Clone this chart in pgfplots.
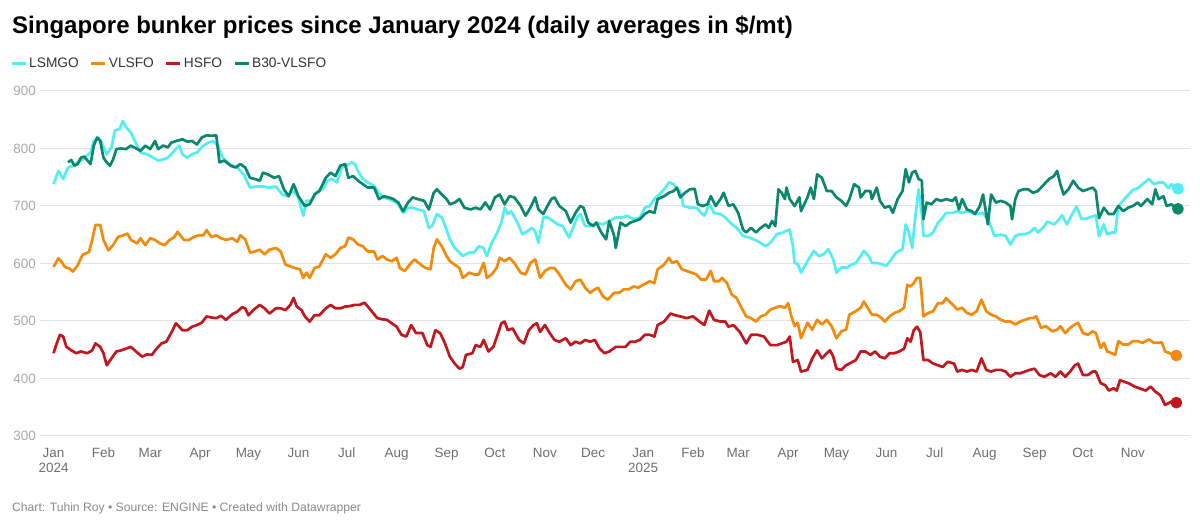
\documentclass[border=0pt]{standalone}
\usepackage{pgfplots}
\pgfplotsset{compat=1.18}
\usepackage{fontspec}
\setmainfont{Liberation Sans}

\definecolor{lsmgo}{HTML}{52EEF2}
\definecolor{vlsfo}{HTML}{F38A0B}
\definecolor{hsfo}{HTML}{C0181E}
\definecolor{bthirty}{HTML}{0B876D}
\definecolor{gridgray}{HTML}{E3E3E3}
\definecolor{ylab}{HTML}{A8A8A8}
\definecolor{xlab}{HTML}{6E6E6E}
\definecolor{legtext}{HTML}{333333}
\definecolor{foot}{HTML}{8A8A8A}

% x = days since 1 Jan 2024
\begin{document}
\begin{tikzpicture}
\path[use as bounding box] (0,0) rectangle (1200bp,526bp);

\node[anchor=base west, inner sep=0pt, font=\fontsize{24.1}{28}\selectfont\bfseries]
  at (12bp,492bp) {Singapore bunker prices since January 2024 (daily averages in \$/mt)};

\node[anchor=base west, inner sep=0pt, text=foot, font=\fontsize{12.2}{14}\selectfont]
  at (12bp,15bp) {Chart: Tuhin Roy • Source: ENGINE • Created with Datawrapper};

\begin{axis}[
    at={(40bp,90bp)}, anchor=south west,
    scale only axis,
    width=1150bp, height=345bp,
    xmin=-8.4, xmax=705.5,
    ymin=300, ymax=900,
    ytick={300,400,500,600,700,800,900},
    xtick={0,31,60,91,121,152,182,213,244,274,305,335,366,397,425,456,486,517,547,578,609,639,670},
    xticklabels={Jan\\2024,Feb,Mar,Apr,May,Jun,Jul,Aug,Sep,Oct,Nov,Dec,Jan\\2025,Feb,Mar,Apr,May,Jun,Jul,Aug,Sep,Oct,Nov},
    ymajorgrids,
    grid style={draw=gridgray, line width=1bp},
    axis line style={draw=none},
    major tick length=0pt,
    /pgf/number format/assume math mode=true,
    yticklabel style={anchor=east, inner sep=0pt, xshift=-4bp, text=ylab, font=\fontsize{13.5}{16}\selectfont},
    xticklabel style={anchor=north, inner sep=0pt, yshift=-12bp, align=center, text=xlab, font=\fontsize{13.5}{15.5}\selectfont},
    clip=false,
    every axis plot/.append style={line width=2.7bp, line join=round, mark=none},
    legend columns=4,
    legend style={at={(axis description cs:-0.0261,1.081)}, anchor=west, draw=none, fill=none, inner sep=0pt,
        font=\fontsize{13.8}{16}\selectfont, text=legtext,
        nodes={inner sep=2bp},
        /tikz/every even column/.append style={column sep=9bp}},
    legend image code/.code={\draw[#1, line width=3bp] (0bp,0bp) -- (14bp,0bp);},
]

\addplot[lsmgo] coordinates {
(0,738)(3,761)(6,747)(9,767)(12,770)(15,776)(18,781)(23,793)(25,813)(28,819)(30,810)(33,790)(36,802)(38,831)(41,834)(43,848)(45,837)(48,828)(51,810)(54,793)(58,790)(62,784)(65,779)(68,781)(71,784)(74,793)(78,805)(80,790)(83,784)(86,790)(89,793)(93,805)(96,810)(99,813)(102,805)(105,784)(109,773)(114,767)(118,755)
(122,732)(126,734)(130,734)(134,732)(138,734)(142,720)(145,717)(149,726)(152,715)(155,683)(157,709)(160,709)(163,723)(167,729)(170,744)(173,747)(176,741)(179,767)(182,770)(185,776)(187,773)(189,761)(192,747)(195,741)(199,735)(202,723)(205,715)(208,712)(211,709)(214,703)(217,688)(220,697)(223,697)(226,694)(230,691)(233,662)(235,665)(238,686)(241,680)(244,659)
(246,642)(249,627)(252,619)(254,613)(258,619)(261,619)(264,630)(267,627)(269,613)(272,636)(275,651)(278,671)(280,697)(282,686)(284,691)(288,671)(291,651)(294,656)(297,662)(299,656)(301,636)(304,680)(307,680)(310,674)(313,668)(316,665)(320,645)(322,659)(325,680)(327,686)(330,665)(333,665)(337,671)(341,668)(345,674)(349,680)(353,680)(356,683)(360,677)(364,680)
(367,697)(370,700)(373,712)(377,723)(380,732)(382,741)(385,738)(387,729)(389,726)(391,700)(395,697)(399,697)(402,688)(404,683)(407,703)(410,688)(414,686)(417,680)(420,671)(424,662)(428,648)(432,645)(437,639)(442,630)(445,636)(449,651)(453,654)(457,659)(459,630)(460,601)(462,599)(464,584)(468,604)(472,622)(475,613)(478,616)(481,625)(484,607)(486,584)(489,593)(493,593)
(494,596)(498,601)(501,613)(503,622)(506,613)(508,601)(511,601)(514,599)(517,596)(520,607)(523,619)(527,625)(529,668)(531,654)(533,627)(535,683)(537,729)(539,686)(540,648)(543,648)(546,654)(549,671)(552,680)(554,688)(558,688)(561,691)(564,688)(567,691)(570,688)(573,686)(577,688)(581,671)(584,648)
(588,650)(591,648)(594,633)(597,648)(600,651)(603,651)(606,654)(609,662)(611,654)(614,662)(617,673)(621,668)(624,676)(626,684)(629,668)(632,684)(635,699)(638,678)(641,678)(644,681)(647,684)(649,647)(652,668)(654,651)(657,654)(659,654)(661,699)(664,710)(667,719)(670,728)(673,731)(676,738)(680,747)(683,738)(686,741)(689,741)(692,731)(694,738)(696,731)(698,730)
};
\addlegendentry{LSMGO}

\addplot[vlsfo] coordinates {
(0,594)(3,609)(5,603)(7,594)(10,591)(12,586)(15,597)(18,615)(22,620)(24,641)(26,667)(29,667)(31,641)(34,623)(37,632)(40,646)(43,649)(46,652)(48,641)(52,635)(54,644)(57,632)(60,644)(63,641)(66,635)(69,632)(72,641)(75,646)(77,655)(81,641)(84,641)(87,646)(90,649)(93,649)(95,658)(98,646)(101,649)(104,644)(107,641)(111,644)(114,638)(116,649)(119,642)
(122,619)(125,621)(128,624)(131,616)(134,624)(138,627)(141,621)(144,598)(147,595)(150,592)(153,590)(155,575)(157,584)(159,575)(162,592)(165,595)(169,616)(172,610)(175,616)(178,627)(181,630)(183,645)(186,642)(189,633)(192,630)(195,621)(199,621)(201,607)(204,613)(207,607)(210,604)(213,610)(215,592)(218,587)(221,598)(224,607)(228,598)(231,592)(234,590)(236,627)(238,642)(241,630)(244,613)
(246,604)(249,598)(252,592)(254,575)(258,584)(261,581)(264,581)(267,601)(269,575)(272,581)(275,592)(277,610)(280,604)(283,610)(286,601)(290,584)(293,581)(296,601)(299,607)(302,575)(305,587)(308,592)(311,592)(314,581)(318,563)(321,555)(324,569)(327,572)(330,558)(333,549)(336,555)(338,558)(341,543)(344,537)(348,549)(351,549)(354,555)(357,555)(360,560)(363,558)(366,563)
(370,569)(373,566)(375,590)(379,598)(382,610)(384,601)(387,604)(390,590)(393,587)(396,584)(399,581)(402,572)(405,572)(408,587)(410,569)(413,569)(415,575)(418,566)(421,546)(424,540)(427,523)(430,508)(433,505)(436,499)(439,508)(442,511)(445,520)(448,523)(451,526)(454,523)(456,531)(458,508)(460,491)(462,497)(464,470)(468,497)(471,485)(474,502)(477,494)(480,502)(483,491)(486,470)(489,482)(492,485)
(494,511)(498,517)(501,523)(503,534)(506,520)(508,511)(511,511)(514,505)(516,499)(519,508)(522,514)(525,517)(528,523)(530,563)(532,560)(534,566)(536,575)(538,575)(540,508)(543,514)(546,517)(549,531)(552,531)(554,540)(558,529)(561,520)(564,523)(567,514)(570,511)(573,517)(576,537)(579,517)(582,511)(585,508)
(588,502)(591,499)(594,499)(597,494)(600,499)(603,502)(606,505)(608,505)(610,508)(613,488)(616,491)(620,482)(623,485)(625,491)(628,479)(631,488)(634,494)(636,497)(639,479)(642,476)(645,482)(647,479)(650,453)(652,462)(654,447)(657,444)(659,441)(661,465)(664,459)(667,459)(670,465)(673,465)(676,462)(680,468)(683,462)(686,462)(688,463)(690,447)(693,444)(695,441)(697,440)
};
\addlegendentry{VLSFO}

\addplot[hsfo] coordinates {
(0,444)(2,461)(4,476)(6,473)(8,455)(11,449)(14,444)(17,447)(21,444)(24,449)(26,461)(29,455)(31,444)(33,423)(36,435)(39,447)(42,449)(45,452)(48,455)(52,445)(55,438)(58,442)(61,441)(64,452)(67,461)(70,464)(73,479)(76,496)(80,484)(83,484)(86,490)(89,493)(92,497)(95,508)(98,506)(101,505)(104,509)(107,502)(111,512)(114,516)(117,524)(119,522)
(121,510)(124,519)(128,528)(131,522)(134,513)(138,522)(141,522)(144,519)(147,528)(149,540)(151,525)(154,519)(156,508)(159,499)(162,510)(165,510)(169,522)(172,528)(175,522)(178,522)(181,525)(184,526)(187,528)(190,528)(193,532)(196,522)(201,505)(204,503)(207,502)(210,496)(213,490)(216,476)(219,473)(222,493)(225,479)(229,479)(232,458)(234,455)(237,484)(240,479)
(243,461)(246,438)(249,426)(252,417)(254,420)(256,441)(260,444)(262,458)(265,455)(267,467)(270,447)(273,455)(276,479)(278,496)(280,499)(282,484)(285,487)(289,467)(292,461)(295,484)(298,493)(300,496)(302,481)(305,493)(308,479)(311,467)(314,464)(318,470)(321,458)(324,464)(327,461)(330,467)(333,464)(336,467)(339,452)(342,444)(345,447)(349,455)(352,455)(355,455)(358,464)(361,464)(364,467)
(367,476)(370,476)(373,473)(375,493)(379,499)(383,513)(386,510)(389,508)(393,505)(397,508)(401,499)(404,493)(407,518)(410,502)(414,499)(417,499)(419,490)(422,493)(426,481)(430,461)(433,476)(437,476)(441,473)(445,458)(449,458)(452,461)(455,464)(457,473)(459,429)(462,432)(464,412)(468,415)(471,435)(474,449)(477,435)(480,444)(482,449)(484,438)(486,417)(489,415)(492,423)
(494,426)(498,432)(501,447)(504,447)(507,441)(510,447)(513,438)(516,435)(519,444)(522,444)(525,447)(528,452)(530,470)(532,464)(534,484)(536,490)(538,481)(540,432)(543,432)(546,426)(549,423)(552,420)(555,429)(559,426)(561,412)(564,415)(567,412)(570,415)(573,412)(576,435)(579,415)(582,412)(585,415)
(588,415)(591,412)(594,403)(597,409)(600,409)(603,412)(606,415)(609,417)(612,406)(615,403)(619,409)(622,403)(625,412)(628,403)(631,412)(634,423)(636,426)(639,406)(642,406)(645,412)(647,412)(650,392)(653,388)(655,379)(658,383)(660,379)(662,397)(665,394)(668,391)(671,386)(674,383)(678,379)(681,386)(684,377)(687,371)(690,354)(692,357)(694,360)(697,358)
};
\addlegendentry{HSFO}

\addplot[bthirty] coordinates {
(9,776)(11,780)(13,770)(15,773)(17,784)(19,786)(23,773)(25,805)(27,819)(29,813)(31,784)(33,776)(35,770)(37,781)(39,799)(42,800)(45,799)(48,805)(52,799)(54,796)(57,805)(60,799)(63,813)(65,799)(68,805)(71,802)(73,810)(76,813)(80,816)(83,812)(86,813)(89,807)(92,819)(95,823)(98,822)(101,823)(103,776)(106,779)(110,770)(113,767)(116,773)(119,767)
(122,749)(125,747)(128,744)(130,758)(133,755)(137,749)(140,752)(143,729)(146,717)(149,738)(152,717)(156,700)(159,703)(162,720)(165,726)(169,749)(172,758)(175,752)(178,770)(181,773)(183,749)(186,752)(189,744)(192,738)(195,732)(199,732)(202,712)(205,717)(208,715)(211,712)(214,706)(217,691)(220,706)(223,715)(226,712)(230,709)(233,694)(236,723)(238,729)(241,720)(244,712)
(246,703)(249,706)(252,712)(255,697)(259,694)(262,697)(265,694)(268,706)(271,694)(274,715)(277,720)(280,703)(283,717)(286,715)(290,700)(293,683)(296,697)(299,715)(301,694)(304,686)(306,697)(309,712)(311,715)(314,700)(318,691)(321,671)(324,688)(327,700)(329,697)(332,671)(335,665)(337,671)(340,654)(343,642)(345,674)(348,648)(349,627)(352,671)(355,665)(358,671)(361,674)(364,677)
(367,686)(370,691)(373,688)(375,712)(379,717)(382,723)(385,726)(387,732)(389,715)(392,723)(395,729)(398,730)(400,703)(403,700)(406,703)(408,717)(411,700)(414,712)(416,723)(419,700)(422,703)(425,688)(428,659)(430,654)(433,662)(436,654)(439,662)(442,668)(444,662)(446,674)(448,665)(450,729)(452,723)(454,712)(455,732)(457,712)(460,700)(463,715)(464,691)(468,715)(470,732)(472,712)(474,755)(477,749)(480,726)(483,726)(486,715)(489,709)(492,700)
(494,712)(497,738)(500,732)(501,715)(504,726)(507,726)(508,712)(511,732)(513,709)(516,697)(519,700)(521,688)(524,712)(527,726)(529,764)(531,741)(533,758)(535,761)(537,747)(539,744)(540,677)(542,706)(545,703)(548,712)(551,709)(554,712)(558,709)(560,715)(562,694)(564,712)(567,694)(570,691)(572,686)(575,700)(577,720)(580,668)(582,720)(585,706)
(588,709)(591,706)(594,700)(595,677)(597,712)(599,726)(602,729)(605,729)(608,723)(611,726)(614,735)(618,747)(621,752)(623,761)(625,738)(627,720)(630,729)(633,744)(636,732)(639,726)(642,729)(645,732)(647,726)(649,679)(652,697)(655,686)(658,686)(661,700)(664,691)(667,697)(670,700)(673,706)(675,700)(679,712)(682,703)(684,729)(686,712)(689,717)(691,700)(694,703)(696,697)(698,695)
};
\addlegendentry{B30-VLSFO}

% end-of-series dots
\addplot[lsmgo, only marks, mark=*, mark size=4.5bp, forget plot] coordinates {(698,730)};
\addplot[vlsfo, only marks, mark=*, mark size=4.5bp, forget plot] coordinates {(697,440)};
\addplot[hsfo, only marks, mark=*, mark size=4.5bp, forget plot] coordinates {(697,358)};
\addplot[bthirty, only marks, mark=*, mark size=4.5bp, forget plot] coordinates {(698,695)};

\end{axis}
\end{tikzpicture}
\end{document}
